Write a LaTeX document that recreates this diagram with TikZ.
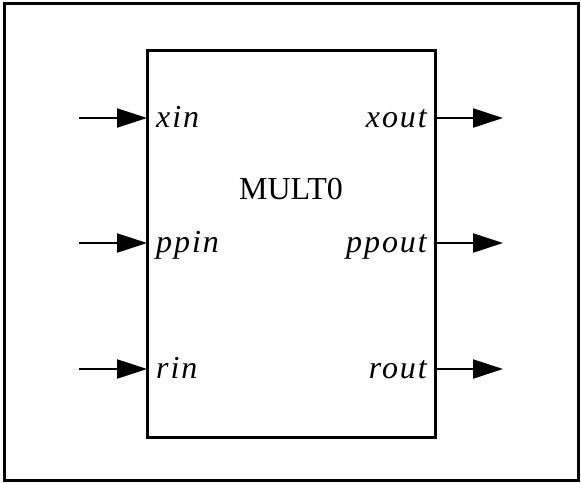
\documentclass[tikz,border=0pt]{standalone}
\usepackage{fontspec}
\setmainfont{Liberation Serif}
\newfontfamily\portfont[LetterSpace=6]{Liberation Serif}
\usetikzlibrary{arrows.meta}
\begin{document}
\begin{tikzpicture}[x=1pt,y=-1pt,
  port/.style={line width=2.2pt,-{Triangle[length=30pt,width=19pt]}},
  lbl/.style={font=\portfont\fontsize{32}{36}\selectfont\itshape,inner sep=0pt},
  title/.style={font=\fontsize{32}{36}\selectfont,inner sep=0pt}]
  \useasboundingbox (0,0) rectangle (581,483);
  % outer frame
  \draw[line width=3pt] (4,3) rectangle (578,480);
  % block
  \node[draw,line width=3pt,minimum width=288pt,minimum height=387pt,inner sep=0pt] (blk) at (291,243.5) {};
  \node[title,anchor=base] (name) at (291,199) {MULT0};
  % input side
  \coordinate (xinS) at (79,118);
  \coordinate (ppinS) at (79,243);
  \coordinate (rinS) at (79,369);
  \coordinate (xinE) at (147,118);
  \coordinate (ppinE) at (147,243);
  \coordinate (rinE) at (147,369);
  \draw[port] (xinS) -- (xinE);
  \draw[port] (ppinS) -- (ppinE);
  \draw[port] (rinS) -- (rinE);
  \node[lbl,anchor=base west] (xin) at (156,127) {xin};
  \node[lbl,anchor=base west] (ppin) at (156,252) {ppin};
  \node[lbl,anchor=base west] (rin) at (156,378) {rin};
  % output side
  \coordinate (xoutS) at (435,118);
  \coordinate (ppoutS) at (435,243);
  \coordinate (routS) at (435,369);
  \coordinate (xoutE) at (503,118);
  \coordinate (ppoutE) at (503,243);
  \coordinate (routE) at (503,369);
  \draw[port] (xoutS) -- (xoutE);
  \draw[port] (ppoutS) -- (ppoutE);
  \draw[port] (routS) -- (routE);
  \node[lbl,anchor=base east] (xout) at (427,127) {xout};
  \node[lbl,anchor=base east] (ppout) at (427,252) {ppout};
  \node[lbl,anchor=base east] (rout) at (427,378) {rout};
\end{tikzpicture}
\end{document}
